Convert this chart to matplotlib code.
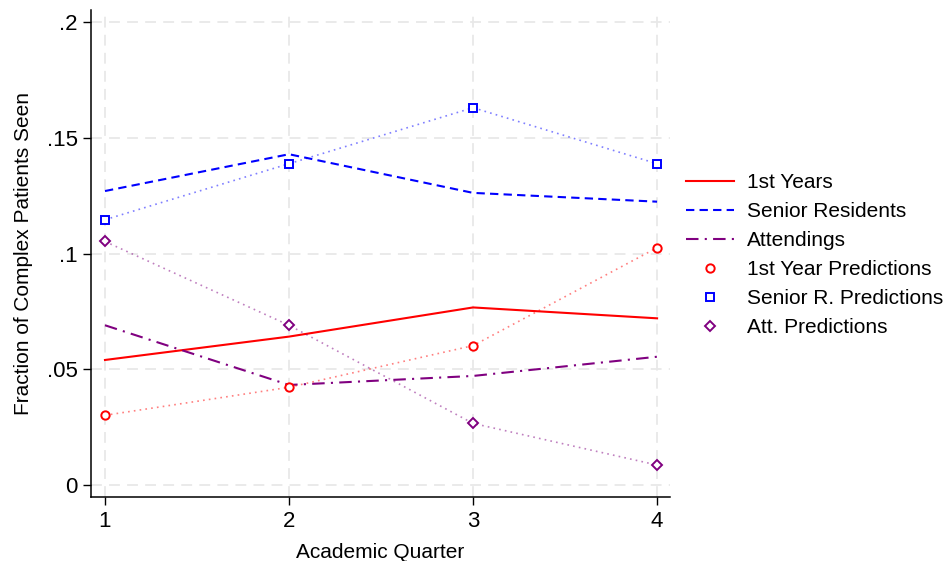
import matplotlib
matplotlib.use("Agg")
import matplotlib.pyplot as plt
from matplotlib.lines import Line2D

plt.rcParams['font.family'] = ['Liberation Sans', 'DejaVu Sans']

quarters = [1, 2, 3, 4]

# observed fractions
first_years = [0.0540, 0.0641, 0.0767, 0.0720]
senior_res = [0.1270, 0.1429, 0.1262, 0.1224]
attendings = [0.0690, 0.0432, 0.0471, 0.0554]

# model predictions
first_pred = [0.0301, 0.0422, 0.0602, 0.1025]
senior_pred = [0.1146, 0.1388, 0.1630, 0.1388]
att_pred = [0.1052, 0.0690, 0.0266, 0.0086]

yticks = [0, 0.05, 0.1, 0.15, 0.2]
ytick_labels = ['0', '.05', '.1', '.15', '.2']

red = '#ff0000'
blue = '#0000ff'
purple = '#800080'

fig = plt.figure(figsize=(9.44, 5.61), dpi=100)
ax = fig.add_axes([0.0964, 0.1141, 0.6133, 0.868])

ax.plot(quarters, first_years, color=red, lw=1.5, ls='-')
ax.plot(quarters, senior_res, color=blue, lw=1.5, ls=(0, (4, 2.5)))
ax.plot(quarters, attendings, color=purple, lw=1.5, ls=(0, (6, 3, 1, 3)))

# predicted values: faint dotted connectors with hollow markers on top
for vals, col, mk in [(first_pred, red, 'o'), (senior_pred, blue, 's'), (att_pred, purple, 'D')]:
    ax.plot(quarters, vals, color=col, alpha=0.5, ls=(0, (1, 2.5)), lw=1.2)
    ax.plot(quarters, vals, ls='none', marker=mk, ms=6 if mk != 'D' else 5.5,
            mfc='white', mec=col, mew=1.4, zorder=4)

ax.set_xlim(0.924, 4.07)
ax.set_ylim(-0.0052, 0.2052)
ax.set_xticks(quarters)
ax.set_yticks(yticks)
ax.set_yticklabels(ytick_labels)
ax.tick_params(axis='both', direction='out', length=6, width=1, labelsize=16, colors='black')
ax.tick_params(axis='x', pad=4)

ax.grid(True, color='#e8e8e8', ls=(0, (6, 4)), lw=1.3)
ax.set_axisbelow(True)
for side in ['top', 'right']:
    ax.spines[side].set_visible(False)
for side in ['left', 'bottom']:
    ax.spines[side].set_linewidth(1.1)

ax.set_xlabel('Academic Quarter', fontsize=15, labelpad=8)
ax.set_ylabel('Fraction of Complex Patients Seen', fontsize=15, labelpad=10)

handles = [
    Line2D([], [], color=red, lw=1.5, ls='-'),
    Line2D([], [], color=blue, lw=1.5, ls=(0, (4, 2.5))),
    Line2D([], [], color=purple, lw=1.5, ls=(0, (6, 3, 1, 3))),
    Line2D([], [], ls='none', marker='o', ms=6, mfc='white', mec=red, mew=1.4),
    Line2D([], [], ls='none', marker='s', ms=6, mfc='white', mec=blue, mew=1.4),
    Line2D([], [], ls='none', marker='D', ms=5.5, mfc='white', mec=purple, mew=1.4),
]
labels = ['1st Years', 'Senior Residents', 'Attendings',
          '1st Year Predictions', 'Senior R. Predictions', 'Att. Predictions']
fig.legend(handles, labels, loc='center left', bbox_to_anchor=(0.727, 0.545),
           frameon=False, fontsize=15, handlelength=2.3, handletextpad=0.6,
           labelspacing=0.48, borderaxespad=0, borderpad=0)

fig.savefig('out.png', dpi=100, facecolor='white')
